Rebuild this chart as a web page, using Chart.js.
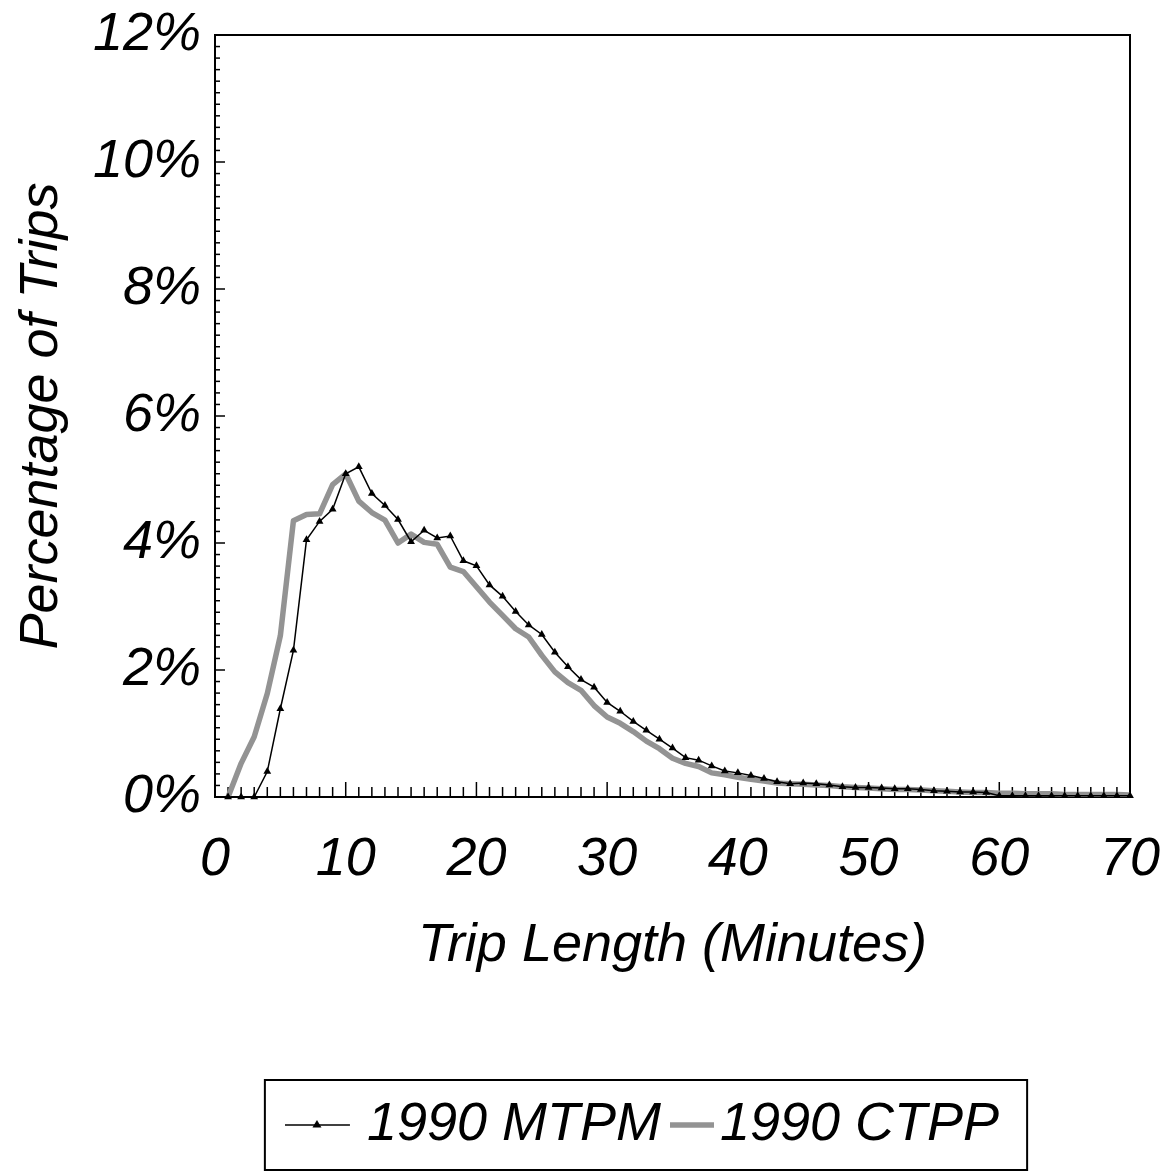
<!DOCTYPE html>
<html>
<head>
<meta charset="utf-8">
<title>Trip Length Distribution</title>
<script src="https://cdn.jsdelivr.net/npm/chart.js@4.4.1/dist/chart.umd.min.js"></script>
<style>
  html, body { margin: 0; padding: 0; background: #fff; }
  #wrap { width: 1164px; height: 1174px; }
</style>
</head>
<body>
<div id="wrap"><canvas id="tripChart" width="1164" height="1174"></canvas></div>
<script>
'use strict';

// trip length in minutes (x)
const minutes = [
  1, 2, 3, 4, 5, 6, 7, 8, 9, 10,
  11, 12, 13, 14, 15, 16, 17, 18, 19, 20,
  21, 22, 23, 24, 25, 26, 27, 28, 29, 30,
  31, 32, 33, 34, 35, 36, 37, 38, 39, 40,
  41, 42, 43, 44, 45, 46, 47, 48, 49, 50,
  51, 52, 53, 54, 55, 56, 57, 58, 59, 60,
  61, 62, 63, 64, 65, 66, 67, 68, 69, 70
];

// percentage of trips, 1990 MTPM
const mtpm1990 = [
  0, 0, 0, 0.40, 1.39, 2.31, 4.05, 4.34, 4.53, 5.09,
  5.20, 4.78, 4.59, 4.37, 4.02, 4.20, 4.08, 4.11, 3.72, 3.64,
  3.34, 3.16, 2.92, 2.71, 2.56, 2.28, 2.05, 1.85, 1.73, 1.49,
  1.35, 1.19, 1.05, 0.91, 0.77, 0.62, 0.58, 0.49, 0.41, 0.38,
  0.34, 0.29, 0.24, 0.21, 0.22, 0.21, 0.19, 0.16, 0.15, 0.15,
  0.14, 0.13, 0.13, 0.12, 0.10, 0.09, 0.08, 0.08, 0.07, 0.02,
  0.02, 0.02, 0.02, 0.02, 0.02, 0.02, 0.02, 0.02, 0.02, 0.02
];

// percentage of trips, 1990 CTPP
const ctpp1990 = [
  0, 0.53, 0.95, 1.63, 2.54, 4.35, 4.45, 4.46, 4.92, 5.09,
  4.66, 4.48, 4.36, 4.00, 4.14, 4.01, 3.98, 3.62, 3.55, 3.31,
  3.07, 2.86, 2.65, 2.52, 2.23, 1.97, 1.80, 1.68, 1.44, 1.26,
  1.16, 1.03, 0.88, 0.76, 0.61, 0.53, 0.48, 0.38, 0.35, 0.31,
  0.28, 0.25, 0.22, 0.21, 0.20, 0.19, 0.18, 0.16, 0.15, 0.14,
  0.13, 0.12, 0.12, 0.11, 0.10, 0.09, 0.08, 0.07, 0.07, 0.06,
  0.06, 0.05, 0.05, 0.05, 0.04, 0.04, 0.04, 0.04, 0.04, 0.03
];

const seriesLabels = ['1990 MTPM', '1990 CTPP'];
const xRange = [0, 70];
const yRange = [0, 12];

const FONT_FAMILY = "'Liberation Sans', Arial, Helvetica, sans-serif";
const BIG_FONT = { family: FONT_FAMILY, size: 54, style: 'italic' };
const CTPP_GRAY = '#939393';

// legend samples drawn into small canvases (used as point styles)
function makeMtpmSample() {
  const c = document.createElement('canvas');
  c.width = 90; c.height = 14;
  const g = c.getContext('2d');
  g.strokeStyle = '#000';
  g.lineWidth = 1.5;
  g.beginPath(); g.moveTo(0, 7); g.lineTo(65, 7); g.stroke();
  g.fillStyle = '#000';
  g.beginPath(); g.moveTo(32, 2); g.lineTo(36.5, 9.5); g.lineTo(27.5, 9.5); g.closePath(); g.fill();
  return c;
}

function makeCtppSample() {
  const c = document.createElement('canvas');
  c.width = 62; c.height = 10;
  const g = c.getContext('2d');
  g.strokeStyle = CTPP_GRAY;
  g.lineWidth = 5.5;
  g.beginPath(); g.moveTo(18, 5); g.lineTo(62, 5); g.stroke();
  return c;
}

const legendSamples = [makeMtpmSample(), makeCtppSample()];

// frame plus inward tick marks (minor every minute / every 2/11 %)
const frameTicks = {
  id: 'frameTicks',
  beforeDatasetsDraw(chart) {
    const { ctx, chartArea: a, scales: { x, y } } = chart;
    ctx.save();
    ctx.strokeStyle = '#000';
    ctx.lineWidth = 1.5;
    for (let m = xRange[0] + 1; m < xRange[1]; m++) {
      const px = x.getPixelForValue(m);
      const len = m % 10 === 0 ? 15 : 10;
      ctx.beginPath(); ctx.moveTo(px, a.bottom); ctx.lineTo(px, a.bottom - len); ctx.stroke();
    }
    for (let k = 1; k < 66; k++) {
      const py = y.getPixelForValue(k * 2 / 11);
      const len = k % 11 === 0 ? 10 : 5;
      ctx.beginPath(); ctx.moveTo(a.left, py); ctx.lineTo(a.left + len, py); ctx.stroke();
    }
    ctx.lineWidth = 2;
    ctx.strokeRect(a.left, a.top, a.width, a.height);
    ctx.restore();
  }
};

// border box around the legend row; nudge the row a bit left
const legendFrame = {
  id: 'legendFrame',
  afterLayout(chart) {
    if (!chart.legend) return;
    chart.legend.left -= 13;
    chart.legend.right -= 13;
  },
  afterDraw(chart) {
    const hb = chart.legend && chart.legend.legendHitBoxes;
    if (!hb || hb.length < 2) return;
    const { ctx } = chart;
    const first = hb[0];
    const last = hb[hb.length - 1];
    const cy = first.top + first.height / 2;
    const left = first.left - 55;
    const right = last.left + last.width + 28;
    ctx.save();
    ctx.strokeStyle = '#000';
    ctx.lineWidth = 2;
    ctx.strokeRect(left, cy - 45, right - left, 90);
    ctx.restore();
  }
};

new Chart(document.getElementById('tripChart').getContext('2d'), {
  type: 'line',
  data: {
    datasets: [
      {
        label: seriesLabels[0],
        data: minutes.map((m, i) => ({ x: m, y: mtpm1990[i] })),
        borderColor: '#000',
        borderWidth: 1.5,
        pointStyle: 'triangle',
        pointRadius: 4.5,
        pointBackgroundColor: '#000',
        pointBorderColor: '#000',
        pointBorderWidth: 0,
        tension: 0,
        clip: false,
      },
      {
        label: seriesLabels[1],
        data: minutes.map((m, i) => ({ x: m, y: ctpp1990[i] })),
        borderColor: CTPP_GRAY,
        borderWidth: 5.5,
        pointRadius: 0,
        tension: 0,
        borderJoinStyle: 'round',
      }
    ]
  },
  options: {
    responsive: false,
    animation: false,
    layout: { padding: { top: 35, right: 34, left: 0, bottom: 12 } },
    plugins: {
      tooltip: { enabled: false },
      legend: {
        position: 'bottom',
        fullSize: false,
        labels: {
          usePointStyle: true,
          pointStyleWidth: 20,
          padding: 12,
          color: '#000',
          font: BIG_FONT,
          generateLabels: (chart) => chart.data.datasets.map((ds, i) => ({
            text: ds.label,
            pointStyle: legendSamples[i],
            fillStyle: 'transparent',
            strokeStyle: 'transparent',
            lineWidth: 0,
            fontColor: '#000',
            hidden: false,
            datasetIndex: i,
          })),
        },
      },
    },
    scales: {
      x: {
        type: 'linear',
        min: xRange[0],
        max: xRange[1],
        grid: { display: false, drawTicks: false },
        border: { display: false },
        ticks: { stepSize: 10, color: '#000', font: BIG_FONT, padding: 31, maxRotation: 0 },
        title: {
          display: true,
          text: 'Trip Length (Minutes)',
          color: '#000',
          font: BIG_FONT,
          padding: { top: 0, bottom: 108 },
        },
        afterFit: (scale) => {
          scale.height = 289;
          scale.paddingLeft = 0;
          scale.paddingRight = 0;
        },
      },
      y: {
        min: yRange[0],
        max: yRange[1],
        grid: { display: false, drawTicks: false },
        border: { display: false },
        ticks: { stepSize: 2, color: '#000', font: BIG_FONT, padding: 14, callback: (v) => v + '%' },
        title: {
          display: true,
          text: 'Percentage of Trips',
          color: '#000',
          font: BIG_FONT,
          padding: { top: 10, bottom: 0 },
        },
        afterFit: (scale) => {
          scale.width = 215;
          scale.paddingTop = 0;
          scale.paddingBottom = 0;
        },
      },
    },
  },
  plugins: [frameTicks, legendFrame],
});
</script>
</body>
</html>
